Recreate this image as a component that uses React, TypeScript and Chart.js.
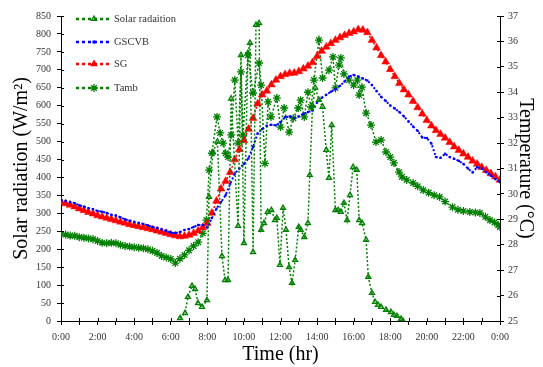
import React, { useEffect, useRef } from 'react';
import { Chart, registerables } from 'chart.js';

Chart.register(...registerables);

// ---- data ----
// SG and GSCVB sampled every 15 minutes from 0:00 to 24:00 (°C)
const sampleStepHours = 0.25;
const sgValues = [
  29.68, 29.62, 29.56, 29.5,
  29.42, 29.35, 29.28, 29.22,
  29.15, 29.1, 29.05, 29.0,
  28.95, 28.9, 28.86, 28.8,
  28.76, 28.72, 28.68, 28.64,
  28.6, 28.55, 28.5, 28.45,
  28.4, 28.36, 28.32, 28.34,
  28.38, 28.45, 28.55, 28.68,
  28.85, 29.25, 29.72, 30.2,
  30.5, 30.85, 31.35, 31.75,
  32.1, 32.55, 32.98, 33.55,
  33.9, 34.05, 34.3, 34.48,
  34.62, 34.7, 34.75, 34.76,
  34.82, 34.92, 35.03, 35.17,
  35.42, 35.62, 35.78, 35.92,
  36.05, 36.15, 36.24, 36.32,
  36.38, 36.47, 36.45, 36.35,
  36.05, 35.75, 35.45, 35.2,
  34.9, 34.62, 34.35, 34.1,
  33.9, 33.65, 33.4, 33.15,
  32.9, 32.68, 32.5, 32.35,
  32.2, 32.03, 31.86, 31.72,
  31.58, 31.45, 31.3, 31.18,
  31.05, 30.93, 30.8, 30.68,
  30.55,
];
const gscvbValues = [
  29.76, 29.72, 29.68, 29.64,
  29.55, 29.5, 29.44, 29.4,
  29.33, 29.3, 29.25, 29.18,
  29.15, 29.08, 29.0, 28.95,
  28.9, 28.86, 28.82, 28.76,
  28.7, 28.66, 28.6, 28.55,
  28.48, 28.46, 28.5, 28.58,
  28.62, 28.7, 28.78, 28.78,
  28.68, 29.05, 29.42, 29.68,
  29.95, 30.4, 30.8, 31.0,
  31.18, 31.4, 31.85, 32.38,
  32.55, 32.68, 32.72, 32.7,
  32.82, 33.02, 33.05, 32.98,
  33.05, 33.15, 33.22, 33.28,
  33.6, 33.78, 33.9, 34.02,
  34.12, 34.25, 34.42, 34.62,
  34.68, 34.62, 34.54, 34.46,
  34.28, 34.05, 33.82, 33.66,
  33.48, 33.36, 33.22, 33.05,
  32.85, 32.65, 32.48, 32.22,
  32.2, 31.98, 31.45, 31.42,
  31.58, 31.45, 31.38, 31.3,
  31.18, 31.0, 30.85, 31.05,
  31.0, 30.85, 30.72, 30.58,
  30.46,
];

// Ambient temperature (hours, °C)
const tambTimes = [
  0, 0.25, 0.5, 0.75, 1, 1.25, 1.5, 1.75, 2, 2.25, 2.5, 2.75, 3, 3.25, 3.5, 3.75,
  4, 4.25, 4.5, 4.75, 5, 5.25, 5.5, 5.75, 6, 6.25, 6.5, 6.75, 7, 7.25, 7.5, 7.75,
  7.95, 8.1, 8.25, 8.53, 8.7, 8.86, 9.0, 9.13, 9.3, 9.5, 9.68, 9.84, 9.95, 10.22,
  10.5, 10.83, 10.94, 11.15, 11.32, 11.48, 11.8, 12.0, 12.2, 12.47, 12.7, 12.97,
  13.1, 13.3, 13.5, 13.67, 13.83, 14.1, 14.3, 14.65, 14.87, 15.0, 15.2, 15.3,
  15.47, 15.75, 16.0, 16.2, 16.3, 16.45, 16.68, 16.95, 17.22, 17.5, 17.77, 18.0,
  18.2, 18.48, 18.64, 18.9, 19.25, 19.5, 19.8, 20.1, 20.4, 20.7, 21.0, 21.4, 21.7,
  22.0, 22.35, 22.65, 22.9, 23.2, 23.45, 23.7, 23.9, 24.0,
];
const tambValues = [
  28.42, 28.4, 28.36, 28.35, 28.3, 28.28, 28.25, 28.22, 28.15, 28.08, 28.06, 28.08, 28.06, 28.0, 27.95, 27.93,
  27.9, 27.88, 27.86, 27.82, 27.76, 27.68, 27.56, 27.5, 27.44, 27.28, 27.45, 27.6, 27.78, 27.95, 28.1, 28.45,
  28.97, 30.94, 31.6, 33.03, 32.4, 32.0, 31.6, 31.45, 32.32, 34.48, 32.0, 34.8, 32.32, 35.46,
  33.97, 35.15, 34.28, 31.2, 33.62, 33.03, 33.77, 32.63, 33.38, 32.43, 32.98, 33.38,
  33.69, 33.03, 34.0, 33.42, 34.48, 36.05, 34.56, 34.87, 35.39, 34.17, 35.07, 35.35,
  34.72, 34.48, 34.28, 34.48, 33.89, 34.2, 33.18, 32.71, 32.04, 32.12, 31.65, 31.45,
  31.22, 30.86, 30.67, 30.55, 30.43, 30.3, 30.15, 30.05, 29.95, 29.88, 29.7, 29.48, 29.38,
  29.33, 29.29, 29.27, 29.25, 29.1, 28.97, 28.88, 28.78, 28.7,
];

// Solar radiation (hours, W/m²)
const solarTimes = [
  6.51, 6.78, 6.94, 7.16, 7.33, 7.49, 7.71, 7.98, 8.09, 8.3, 8.55, 8.8, 8.97, 9.13, 9.3,
  9.68, 9.84, 10.0, 10.22, 10.33, 10.5, 10.66, 10.83, 10.94, 11.1, 11.3, 11.5, 11.7, 11.8,
  11.97, 12.14, 12.3, 12.47, 12.63, 12.8, 13.0, 13.1, 13.3, 13.5, 13.6, 13.75, 13.9, 14.1,
  14.3, 14.5, 14.65, 14.8, 15.0, 15.15, 15.3, 15.47, 15.64, 15.8, 15.97, 16.17, 16.3, 16.46,
  16.68, 16.8, 17.0, 17.17, 17.33, 17.5, 17.77, 18.04, 18.2, 18.37, 18.59, 18.7,
];
const solarValues = [
  8, 22, 67, 98, 89, 50, 39, 58, 346, 470, 500, 181, 114, 114, 620,
  265, 741, 217, 747, 775, 192, 825, 830, 254, 273, 304, 309, 281, 287,
  156, 315, 254, 150, 106, 170, 262, 254, 234, 273, 407, 600, 650, 616,
  597, 477, 399, 546, 309, 309, 304, 329, 281, 351, 429, 421, 281, 273,
  226, 123, 78, 53, 45, 39, 31, 25, 17, 14, 6, 0,
];

const legendLabels = ['Solar radaition', 'GSCVB', 'SG', 'Tamb'];
const xAxisTitle = 'Time (hr)';
const yAxisTitle = 'Solar radiation (W/m²)';
const y1AxisTitle = 'Temperature (°C)';

const GREEN = '#008000';
const BLUE = '#0000ff';
const RED = '#ff0000';
const FONT = "'Liberation Serif', 'Times New Roman', serif";

type Marker = 'tri' | 'rect' | 'bigtri' | 'star';

function drawMarker(ctx: CanvasRenderingContext2D, kind: Marker, x: number, y: number, color: string) {
  ctx.save();
  ctx.setLineDash([]);
  ctx.strokeStyle = color;
  ctx.fillStyle = color;
  if (kind === 'tri' || kind === 'bigtri') {
    const r = kind === 'tri' ? 3 : 4.5;
    ctx.beginPath();
    ctx.moveTo(x, y - r);
    ctx.lineTo(x + r * 0.866, y + r * 0.5);
    ctx.lineTo(x - r * 0.866, y + r * 0.5);
    ctx.closePath();
    if (kind === 'tri') {
      ctx.fillStyle = 'rgba(0,128,0,0.45)';
      ctx.fill();
      ctx.lineWidth = 1.2;
      ctx.stroke();
    } else {
      ctx.fill();
    }
  } else if (kind === 'rect') {
    ctx.fillRect(x - 1.5, y - 1.5, 3, 3);
  } else {
    const r = 4;
    ctx.lineWidth = 1.3;
    ctx.beginPath();
    ctx.moveTo(x - r, y);
    ctx.lineTo(x + r, y);
    ctx.moveTo(x, y - r);
    ctx.lineTo(x, y + r);
    const d = r * 0.7071;
    ctx.moveTo(x - d, y - d);
    ctx.lineTo(x + d, y + d);
    ctx.moveTo(x - d, y + d);
    ctx.lineTo(x + d, y - d);
    ctx.stroke();
  }
  ctx.restore();
}

const legendPlugin = {
  id: 'insideLegend',
  afterDraw(chart: any) {
    const { ctx, chartArea } = chart;
    const styles: { color: string; marker: Marker }[] = [
      { color: GREEN, marker: 'tri' },
      { color: BLUE, marker: 'rect' },
      { color: RED, marker: 'bigtri' },
      { color: GREEN, marker: 'star' },
    ];
    const x0 = chartArea.left + 15;
    const rowY = [3, 26, 48, 72];
    ctx.save();
    legendLabels.forEach((label, i) => {
      const y = chartArea.top + rowY[i];
      const s = styles[i];
      ctx.strokeStyle = s.color;
      ctx.lineWidth = 2.5;
      ctx.setLineDash([3, 3]);
      ctx.beginPath();
      ctx.moveTo(x0, y);
      ctx.lineTo(x0 + 36, y);
      ctx.stroke();
      drawMarker(ctx, s.marker, x0 + 18, y, s.color);
      ctx.setLineDash([]);
      ctx.fillStyle = '#333';
      ctx.font = `10.5px ${FONT}`;
      ctx.textBaseline = 'middle';
      ctx.textAlign = 'left';
      ctx.fillText(label, x0 + 38, y);
    });
    ctx.restore();
  },
};

const innerTicksPlugin = {
  id: 'innerTicks',
  afterDraw(chart: any) {
    const { ctx, chartArea, scales } = chart;
    ctx.save();
    ctx.strokeStyle = '#000';
    ctx.lineWidth = 1;
    ctx.beginPath();
    const xs = scales.x;
    xs.ticks.forEach((_t: any, i: number) => {
      const px = Math.round(xs.getPixelForTick(i)) + 0.5;
      ctx.moveTo(px, chartArea.bottom);
      ctx.lineTo(px, chartArea.bottom - 3);
    });
    const ys = scales.y;
    ys.ticks.forEach((_t: any, i: number) => {
      const py = Math.round(ys.getPixelForTick(i)) + 0.5;
      ctx.moveTo(chartArea.left, py);
      ctx.lineTo(chartArea.left + 3, py);
    });
    const y1 = scales.y1;
    y1.ticks.forEach((_t: any, i: number) => {
      const py = Math.round(y1.getPixelForTick(i)) + 0.5;
      ctx.moveTo(chartArea.right, py);
      ctx.lineTo(chartArea.right - 3, py);
    });
    ctx.stroke();
    ctx.restore();
  },
};

export default function App() {
  const canvasRef = useRef<HTMLCanvasElement | null>(null);

  useEffect(() => {
    document.body.style.margin = '0';
    const canvas = canvasRef.current;
    if (!canvas) return;

    const sgData = sgValues.map((v, i) => ({ x: i * sampleStepHours, y: v }));
    const gscvbData = gscvbValues.map((v, i) => ({ x: i * sampleStepHours, y: v }));
    const tambData = tambTimes.map((t, i) => ({ x: t, y: tambValues[i] }));
    const solarData = solarTimes.map((t, i) => ({ x: t, y: solarValues[i] }));

    const tickFont = { family: FONT, size: 10 };
    const titleFont = { family: FONT, size: 20 };

    const chart = new Chart(canvas, {
      type: 'line',
      data: {
        datasets: [
          {
            label: legendLabels[0],
            data: solarData,
            yAxisID: 'y',
            borderColor: GREEN,
            borderWidth: 1.5,
            borderDash: [2, 2],
            pointStyle: 'triangle',
            pointRadius: 3,
            pointBackgroundColor: 'rgba(0,128,0,0.45)',
            pointBorderColor: GREEN,
            pointBorderWidth: 1.2,
            fill: false,
            tension: 0,
          },
          {
            label: legendLabels[1],
            data: gscvbData,
            yAxisID: 'y1',
            borderColor: BLUE,
            borderWidth: 2,
            borderDash: [2, 2],
            pointStyle: 'rect',
            pointRadius: 1.6,
            pointBackgroundColor: BLUE,
            pointBorderWidth: 0,
            fill: false,
            tension: 0,
          },
          {
            label: legendLabels[2],
            data: sgData,
            yAxisID: 'y1',
            borderColor: RED,
            borderWidth: 1.5,
            borderDash: [2, 2],
            pointStyle: 'triangle',
            pointRadius: 4.5,
            pointBackgroundColor: RED,
            pointBorderColor: RED,
            pointBorderWidth: 0.5,
            fill: false,
            tension: 0,
          },
          {
            label: legendLabels[3],
            data: tambData,
            yAxisID: 'y1',
            borderColor: GREEN,
            borderWidth: 1.5,
            borderDash: [2, 2],
            pointStyle: 'star',
            pointRadius: 4,
            pointBorderColor: GREEN,
            pointBorderWidth: 1.3,
            fill: false,
            tension: 0,
          },
        ],
      },
      options: {
        animation: false,
        responsive: true,
        maintainAspectRatio: false,
        layout: { padding: { top: 16, left: 0, right: 0, bottom: 0 } },
        plugins: {
          legend: { display: false },
          tooltip: { enabled: false },
        },
        scales: {
          x: {
            type: 'linear',
            min: 0,
            max: 24,
            afterFit: (s: any) => { s.height = 46; },
            border: { display: true, color: '#000', width: 1 },
            grid: { drawOnChartArea: false, drawTicks: true, tickLength: 4, color: '#000' },
            ticks: {
              stepSize: 1,
              autoSkip: false,
              maxRotation: 0,
              padding: 6,
              color: '#333',
              font: tickFont,
              callback: (v: any) => (Number(v) % 2 === 0 ? `${Number(v) % 24}:00` : ''),
            },
            title: { display: true, text: xAxisTitle, font: titleFont, color: '#000', padding: { top: 0, bottom: 0 } },
          },
          y: {
            type: 'linear',
            position: 'left',
            min: 0,
            max: 850,
            afterFit: (s: any) => { s.width = 61; },
            border: { display: true, color: '#000', width: 1 },
            grid: { drawOnChartArea: false, drawTicks: true, tickLength: 4, color: '#000' },
            ticks: { stepSize: 50, autoSkip: false, padding: 6, color: '#333', font: tickFont },
            title: { display: true, text: yAxisTitle, font: titleFont, color: '#000', padding: { top: 10, bottom: 0 } },
          },
          y1: {
            type: 'linear',
            position: 'right',
            min: 25,
            max: 37,
            afterFit: (s: any) => { s.width = 43; },
            border: { display: true, color: '#000', width: 1 },
            grid: { drawOnChartArea: false, drawTicks: true, tickLength: 4, color: '#000' },
            ticks: { stepSize: 1, autoSkip: false, padding: 4, color: '#333', font: tickFont },
            title: { display: true, text: y1AxisTitle, font: titleFont, color: '#000', padding: { top: 6, bottom: 0 } },
          },
        },
      },
      plugins: [legendPlugin, innerTicksPlugin],
    } as any);

    return () => chart.destroy();
  }, []);

  return (
    <div style={{ position: 'absolute', left: 0, top: 0, width: 543, height: 367, background: '#fff' }}>
      <canvas ref={canvasRef} />
    </div>
  );
}
